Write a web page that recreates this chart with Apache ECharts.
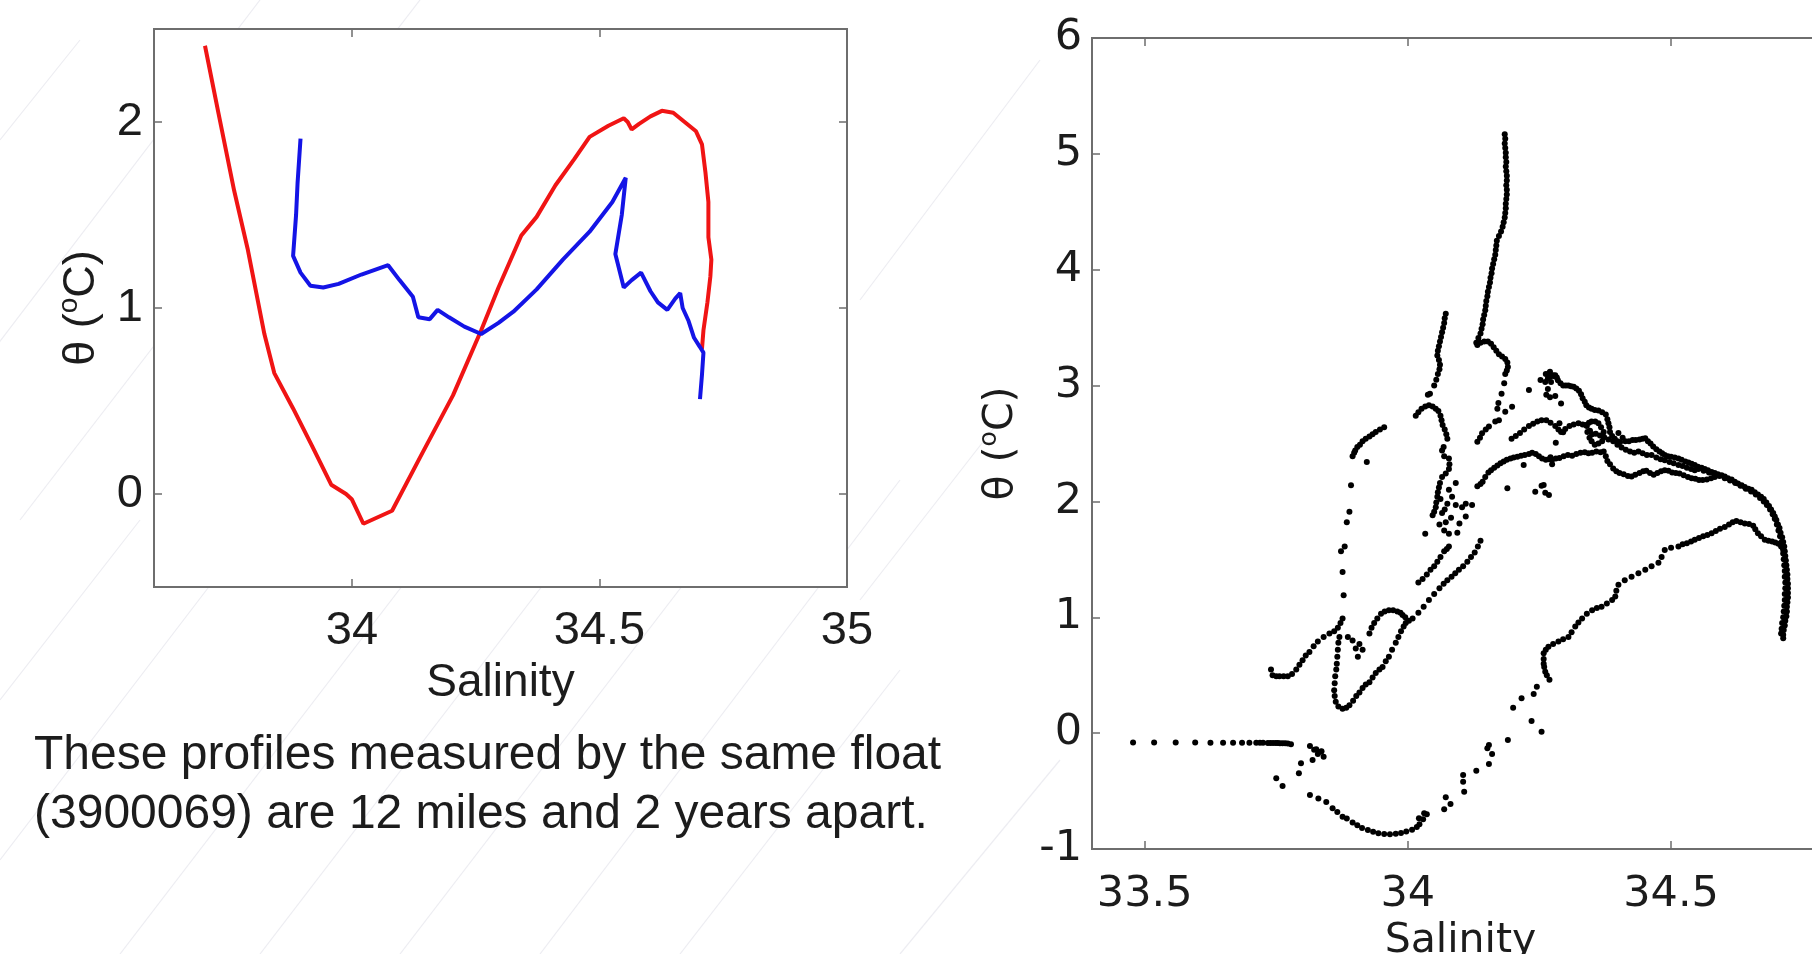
<!DOCTYPE html>
<html>
<head>
<meta charset="utf-8">
<script src="https://cdn.jsdelivr.net/npm/echarts@6/dist/echarts.min.js"></script>
<style>
html,body{margin:0;padding:0;background:#fff;}
#c{width:1812px;height:954px;}
</style>
</head>
<body>
<div id="c"></div>
<script>
// ---------- Left panel: two profiles of float 3900069 (Salinity, theta) ----------
const leftXTicks = [34, 34.5, 35];
const leftYTicks = [0, 1, 2];
const redProfile = [
  [33.703,2.41],[33.730,2.05],[33.762,1.63],[33.789,1.32],[33.823,0.86],[33.843,0.65],
  [33.881,0.46],[33.919,0.26],[33.958,0.05],[33.988,0.00],[34.000,-0.03],[34.023,-0.16],
  [34.081,-0.09],[34.142,0.22],[34.204,0.53],[34.261,0.88],[34.296,1.11],[34.342,1.39],
  [34.373,1.49],[34.411,1.66],[34.449,1.80],[34.480,1.92],[34.518,1.98],[34.549,2.02],
  [34.557,2.00],[34.565,1.96],[34.580,1.99],[34.603,2.03],[34.626,2.06],[34.649,2.05],
  [34.672,2.00],[34.695,1.95],[34.707,1.88],[34.714,1.73],[34.720,1.57],[34.720,1.38],
  [34.726,1.26],[34.724,1.17],[34.718,1.03],[34.710,0.88],[34.707,0.78]
];
const blueProfile = [
  [33.896,1.91],[33.890,1.67],[33.887,1.50],[33.881,1.28],[33.896,1.19],[33.916,1.12],
  [33.942,1.11],[33.973,1.13],[34.019,1.18],[34.073,1.23],[34.096,1.15],[34.123,1.06],
  [34.134,0.95],[34.157,0.94],[34.173,0.99],[34.196,0.95],[34.227,0.90],[34.261,0.86],
  [34.296,0.92],[34.326,0.98],[34.373,1.10],[34.426,1.26],[34.480,1.41],[34.526,1.57],
  [34.553,1.70],[34.545,1.50],[34.532,1.29],[34.549,1.11],[34.565,1.15],[34.584,1.19],
  [34.603,1.09],[34.618,1.03],[34.637,0.99],[34.653,1.05],[34.663,1.08],[34.668,1.00],
  [34.680,0.93],[34.691,0.84],[34.703,0.79],[34.710,0.76],[34.707,0.64],[34.703,0.51]
];

// ---------- Right panel: all profiles (dots) ----------
const rightXTicks = [33.5, 34, 34.5];
const spikeDots = [
  [34.184,5.17],[34.185,5.13],[34.184,5.09],[34.185,5.05],[34.186,5.01],[34.186,4.97],[34.187,4.93],
  [34.186,4.89],[34.187,4.85],[34.188,4.81],[34.188,4.77],[34.187,4.73],[34.188,4.69],[34.188,4.65],
  [34.187,4.61],[34.186,4.57],[34.186,4.53],[34.185,4.49],[34.184,4.45],[34.182,4.41],[34.180,4.37],
  [34.177,4.33],[34.173,4.29],[34.169,4.25],[34.168,4.21],[34.167,4.17],[34.166,4.13],[34.164,4.09],
  [34.162,4.05],[34.160,4.01],[34.159,3.97],[34.157,3.93],[34.156,3.89],[34.154,3.85],[34.152,3.81],
  [34.151,3.77],[34.149,3.73],[34.148,3.69],[34.147,3.65],[34.145,3.61],[34.143,3.57],[34.142,3.53],
  [34.140,3.49],[34.138,3.45],[34.134,3.41],[34.130,3.37],[34.132,3.35],[34.138,3.37],[34.145,3.38],
  [34.152,3.38],[34.158,3.36],[34.163,3.33],[34.168,3.30],[34.173,3.27],[34.179,3.25],[34.185,3.23],
  [34.189,3.20],[34.190,3.16],[34.188,3.13],[34.185,3.10],[34.183,3.02],[34.178,2.93],[34.172,2.85],
  [34.170,2.80],[34.173,2.70],[34.185,2.775],[34.198,2.818],[34.230,2.962],[34.252,3.048],[34.268,3.106]
];
const columnDots = [
  [34.072,3.62],[34.070,3.58],[34.069,3.54],[34.067,3.50],[34.065,3.46],[34.063,3.42],[34.061,3.38],
  [34.059,3.34],[34.057,3.30],[34.056,3.26],[34.059,3.22],[34.061,3.18],[34.060,3.14],[34.057,3.10],
  [34.054,3.05],[34.050,3.00],[34.042,2.93],[34.038,2.92],
  [34.015,2.74],[34.020,2.77],[34.026,2.80],[34.033,2.82],[34.040,2.83],[34.047,2.82],[34.053,2.80],
  [34.058,2.78],[34.062,2.74],[34.064,2.70],[34.066,2.66],[34.070,2.62],[34.073,2.58],[34.075,2.54],
  [34.068,2.47],[34.065,2.44],[34.069,2.39],[34.078,2.37],[34.079,2.32],[34.078,2.28],[34.072,2.24],
  [34.065,2.21],[34.061,2.16],[34.059,2.12],[34.057,2.08],[34.056,2.04],[34.054,1.99],[34.053,1.95],
  [34.050,1.91],[34.047,1.88],[34.065,1.90],[34.075,1.98],[34.078,2.10],[34.091,2.16],[34.084,2.04],
  [34.091,1.97],[34.072,1.82],[34.069,1.75],[34.078,1.72],[34.094,1.73],[34.103,1.95],[34.110,1.98],
  [34.122,1.97],[34.110,1.87],[34.033,1.72],[34.062,2.02],[34.070,1.93],[34.082,1.86],[34.098,1.81],
  [34.060,1.80],[34.132,2.516],[34.137,2.55],[34.141,2.588],[34.148,2.62],[34.154,2.646],[34.166,2.689]
];
const leftColumnDots = [
  [33.955,2.64],[33.947,2.62],[33.939,2.60],[33.933,2.58],[33.927,2.56],[33.920,2.54],[33.914,2.52],
  [33.909,2.49],[33.904,2.47],[33.900,2.44],[33.898,2.42],[33.895,2.39],[33.922,2.34],[33.892,2.14],
  [33.889,1.91],[33.884,1.82],[33.880,1.61],[33.873,1.57],[33.876,1.39],[33.878,1.19],[33.876,0.99]
];
const vShapeDots = [
  [33.740,0.55],[33.743,0.50],[33.750,0.49],[33.756,0.49],[33.764,0.49],[33.772,0.49],[33.780,0.51],
  [33.788,0.55],[33.794,0.59],[33.800,0.63],[33.806,0.67],[33.813,0.70],[33.821,0.75],[33.829,0.79],
  [33.840,0.83],[33.851,0.86],[33.860,0.88],[33.867,0.91],[33.872,0.95],
  [33.870,0.83],[33.868,0.78],[33.867,0.72],[33.866,0.66],[33.865,0.60],[33.864,0.55],[33.862,0.49],
  [33.861,0.43],[33.860,0.37],[33.861,0.32],[33.863,0.27],[33.868,0.23],[33.876,0.21],[33.883,0.22],
  [33.889,0.24],[33.896,0.28],[33.902,0.32],[33.908,0.35],[33.914,0.39],[33.920,0.42],[33.927,0.44],
  [33.933,0.48],[33.939,0.52],[33.946,0.55],[33.952,0.57],[33.958,0.62],[33.964,0.66],[33.970,0.72],
  [33.977,0.78],[33.982,0.83],[33.987,0.88],[33.992,0.92],[33.996,0.95],[34.002,0.97],[34.009,0.99],
  [33.927,0.86],[33.931,0.91],[33.936,0.95],[33.942,0.99],[33.949,1.03],[33.956,1.05],[33.964,1.06],
  [33.972,1.06],[33.980,1.05],[33.986,1.04],[33.990,1.02],[33.995,1.00],
  [33.895,0.80],[33.901,0.73],[33.905,0.66],[33.914,0.72],[33.886,0.83],[33.908,0.77]
];
const diagonalDots = [
  [34.020,1.04],[34.030,1.09],[34.040,1.15],[34.050,1.20],[34.060,1.25],[34.068,1.29],[34.075,1.32],
  [34.083,1.35],[34.090,1.38],[34.097,1.41],[34.105,1.44],[34.113,1.48],[34.120,1.52],[34.127,1.56],
  [34.133,1.61],[34.138,1.66],
  [34.020,1.30],[34.028,1.33],[34.036,1.37],[34.043,1.41],[34.050,1.44],[34.056,1.48],[34.062,1.52],
  [34.069,1.57],[34.074,1.59],[34.078,1.61]
];
const topLoopDots = [
  [34.261,3.03],[34.266,3.06],[34.271,3.08],[34.276,3.09],[34.280,3.09],[34.283,3.07],[34.285,3.045],
  [34.290,3.02],[34.295,3.00],[34.300,3.00],[34.305,3.00],[34.310,2.995],[34.315,2.99],[34.320,2.975],
  [34.325,2.955],[34.329,2.925],[34.332,2.89],[34.336,2.86],[34.339,2.83],[34.344,2.81],[34.349,2.80],
  [34.355,2.79],[34.362,2.785],[34.369,2.77],[34.376,2.75],[34.379,2.71],[34.381,2.675],[34.383,2.64],
  [34.384,2.60],[34.388,2.565],[34.393,2.54],[34.398,2.52],[34.403,2.51],
  [34.338,2.66],[34.344,2.68],[34.349,2.69],[34.356,2.69],[34.362,2.675],[34.367,2.64],[34.372,2.60],
  [34.371,2.56],[34.369,2.52],[34.362,2.50],[34.355,2.49],[34.349,2.52],[34.345,2.55],[34.341,2.60],
  [34.262,3.10],[34.270,3.12],[34.278,3.08],[34.272,3.03],[34.266,2.97],[34.263,2.92],[34.270,2.90],[34.280,2.91],
  [34.291,2.845],[34.288,2.675],[34.295,2.598],[34.281,2.506],[34.271,2.382],[34.274,2.321],[34.261,2.074],
  [34.254,2.136],[34.242,2.084],[34.258,2.142],[34.268,2.056],[34.189,2.113],[34.220,2.315]
];
const midStrandDots = [
  [34.197,2.54],[34.205,2.565],[34.213,2.59],[34.221,2.62],[34.230,2.65],[34.238,2.67],[34.246,2.69],
  [34.254,2.70],[34.263,2.70],[34.271,2.68],[34.280,2.65],[34.286,2.62],[34.291,2.60],[34.299,2.625],
  [34.307,2.65],[34.315,2.665],[34.324,2.675],[34.332,2.665],[34.340,2.65],[34.346,2.61],[34.350,2.58],
  [34.357,2.585],[34.365,2.57],[34.373,2.555],[34.381,2.535],[34.390,2.52],[34.398,2.49],[34.406,2.465],
  [34.414,2.445],[34.422,2.43],[34.430,2.42],[34.438,2.43],[34.446,2.415],[34.454,2.40],[34.463,2.40],
  [34.472,2.38],[34.480,2.365],[34.488,2.355],[34.497,2.34],[34.505,2.33],[34.514,2.315],[34.522,2.305],
  [34.530,2.29],[34.538,2.28],[34.545,2.27]
];
const lowStrandDots = [
  [34.132,2.13],[34.138,2.15],[34.142,2.17],[34.147,2.21],[34.153,2.25],[34.158,2.27],[34.164,2.29],
  [34.170,2.31],[34.176,2.33],[34.182,2.345],[34.188,2.36],[34.195,2.37],[34.201,2.38],[34.208,2.385],
  [34.215,2.395],[34.222,2.40],[34.230,2.41],[34.236,2.42],[34.243,2.41],[34.249,2.39],[34.255,2.37],
  [34.262,2.36],[34.268,2.365],[34.274,2.36],[34.281,2.37],[34.288,2.375],[34.296,2.39],[34.304,2.40],
  [34.312,2.395],[34.320,2.41],[34.328,2.42],[34.336,2.425],[34.343,2.415],[34.350,2.42],[34.358,2.43],
  [34.366,2.425],[34.372,2.43],[34.376,2.39],[34.379,2.35],[34.384,2.32],[34.390,2.285],[34.396,2.26],
  [34.402,2.245],[34.410,2.235],[34.418,2.22],[34.425,2.215],[34.432,2.23],[34.440,2.245],[34.447,2.26],
  [34.453,2.265],[34.460,2.245],[34.467,2.23],[34.474,2.245],[34.481,2.26],[34.488,2.27],[34.495,2.265],
  [34.502,2.25],[34.509,2.245],[34.516,2.24],[34.524,2.225],[34.532,2.21],[34.539,2.20],[34.546,2.195],
  [34.553,2.185],[34.560,2.185],[34.568,2.19],[34.576,2.20],[34.583,2.21]
];
const bendDots = [
  [34.400,2.59],[34.408,2.55],[34.413,2.52],[34.420,2.52],[34.427,2.53],[34.433,2.53],[34.440,2.535],
  [34.446,2.54],[34.451,2.545],[34.456,2.52],[34.461,2.50],[34.466,2.475],[34.472,2.45],[34.478,2.43],
  [34.483,2.415],[34.488,2.40],[34.494,2.39],[34.500,2.385],[34.507,2.38],[34.514,2.37],[34.520,2.36],
  [34.527,2.345],[34.533,2.335],[34.539,2.325],[34.545,2.315],[34.551,2.30],[34.558,2.29],[34.564,2.28],
  [34.570,2.27],[34.577,2.255],[34.583,2.245],[34.589,2.235],[34.596,2.225],[34.602,2.215],[34.608,2.20],
  [34.615,2.19],[34.621,2.17],[34.627,2.155],[34.634,2.14],[34.640,2.125],[34.647,2.11],[34.653,2.10],
  [34.659,2.08],[34.665,2.06],[34.671,2.04],[34.676,2.02],[34.681,1.99],[34.686,1.96],[34.690,1.93],
  [34.694,1.90],[34.697,1.87],[34.700,1.84],[34.703,1.80],[34.706,1.77],[34.708,1.73],[34.711,1.69],
  [34.713,1.65],[34.715,1.61],[34.716,1.57],[34.717,1.53],[34.718,1.49],[34.719,1.45],[34.720,1.41],
  [34.721,1.37],[34.721,1.33],[34.722,1.29],[34.722,1.25],[34.722,1.21],[34.722,1.17],[34.721,1.13],
  [34.720,1.09],[34.720,1.05],[34.719,1.01],[34.717,0.97],[34.716,0.93],[34.714,0.89],[34.713,0.85],
  [34.713,0.82],
  [34.552,2.28],[34.562,2.265],[34.572,2.25],[34.582,2.235],[34.592,2.22],[34.602,2.20],[34.612,2.18],
  [34.622,2.16],[34.632,2.135],[34.642,2.11],[34.652,2.085],[34.661,2.06],[34.669,2.03],[34.676,2.00],
  [34.682,1.97],[34.688,1.93],[34.693,1.89],[34.697,1.85],[34.701,1.80],[34.704,1.75],[34.707,1.70],
  [34.710,1.65],[34.712,1.60],[34.713,1.55],[34.714,1.50],[34.715,1.45],[34.716,1.40],[34.716,1.35],
  [34.717,1.30],[34.717,1.25],[34.716,1.20],[34.716,1.15],[34.715,1.10],[34.714,1.05],[34.713,1.00],
  [34.711,0.95],[34.710,0.90],[34.709,0.86]
];
const lowerCurveDots = [
  [34.269,0.46],[34.264,0.50],[34.261,0.53],[34.259,0.57],[34.258,0.60],[34.258,0.64],[34.258,0.69],
  [34.262,0.72],[34.267,0.745],[34.276,0.77],[34.286,0.79],[34.295,0.81],[34.305,0.83],[34.311,0.87],
  [34.318,0.92],[34.324,0.955],[34.331,0.99],[34.340,1.03],[34.350,1.06],[34.359,1.08],[34.368,1.09],
  [34.378,1.12],[34.388,1.15],[34.394,1.18],[34.396,1.23],[34.400,1.28],[34.412,1.32],[34.425,1.35],
  [34.438,1.38],[34.451,1.41],[34.463,1.44],[34.476,1.47],[34.482,1.52],[34.488,1.58],[34.500,1.60],
  [34.514,1.61],[34.522,1.63],[34.530,1.64],[34.538,1.655],[34.545,1.67],[34.553,1.685],[34.561,1.70],
  [34.569,1.71],[34.577,1.725],[34.585,1.745],[34.593,1.765],[34.602,1.78],[34.610,1.80],[34.617,1.82],
  [34.624,1.83],[34.632,1.82],[34.640,1.81],[34.648,1.805],[34.656,1.79],[34.660,1.76],[34.665,1.725],
  [34.671,1.70],[34.678,1.67],[34.685,1.66],[34.692,1.655],[34.698,1.645],[34.704,1.635],[34.709,1.61],
  [34.713,1.58]
];
const bottomDots = [
  [33.478,-0.080],[33.518,-0.080],[33.559,-0.080],[33.596,-0.080],[33.625,-0.082],[33.649,-0.082],
  [33.668,-0.082],[33.685,-0.083],[33.699,-0.083],[33.712,-0.084],[33.719,-0.084],[33.725,-0.084],
  [33.734,-0.085],[33.739,-0.085],[33.744,-0.085],[33.749,-0.086],[33.753,-0.086],[33.757,-0.087],
  [33.762,-0.087],[33.767,-0.088],[33.772,-0.090],[33.778,-0.095],
  [33.814,-0.111],[33.826,-0.140],[33.835,-0.160],[33.840,-0.203],[33.829,-0.180],[33.819,-0.232],
  [33.822,-0.143],[33.836,-0.157],[33.797,-0.260],[33.793,-0.347],[33.750,-0.390],[33.762,-0.456],
  [33.814,-0.534],[33.830,-0.565],[33.845,-0.595],[33.857,-0.649],[33.866,-0.680],[33.876,-0.721],
  [33.884,-0.737],[33.895,-0.771],[33.904,-0.795],[33.913,-0.818],[33.924,-0.837],[33.934,-0.851],
  [33.944,-0.864],[33.955,-0.871],[33.966,-0.872],[33.977,-0.869],[33.987,-0.862],[33.997,-0.850],
  [34.008,-0.833],[34.017,-0.810],[34.022,-0.786],[34.029,-0.743],[34.021,-0.735],[34.031,-0.692],
  [34.036,-0.700],[34.069,-0.657],[34.081,-0.612],[34.072,-0.554],[34.107,-0.505],[34.105,-0.419],
  [34.105,-0.361],[34.130,-0.324],[34.154,-0.266],[34.160,-0.180],[34.151,-0.131],[34.154,-0.102],
  [34.190,-0.059],[34.254,0.013],[34.235,0.105],[34.200,0.220],[34.216,0.301],[34.239,0.338],
  [34.245,0.401]
];

const allDots = [].concat(spikeDots, columnDots, leftColumnDots, vShapeDots, diagonalDots,
  topLoopDots, midStrandDots, lowStrandDots, bendDots, lowerCurveDots, bottomDots);

const FRAME = '#6e6e6e';
const TXT = '#1c1c1c';
const FL = '"Liberation Sans", Arial, sans-serif';
const FR = '"DejaVu Sans", sans-serif';

function thetaName(size, fam) {
  return {
    name: '{a|θ (}{s|o}{a|C)}',
    nameTextStyle: {
      rich: {
        a: { fontSize: size, fontFamily: fam, color: TXT, lineHeight: size * 1.2 },
        s: { fontSize: Math.round(size * 0.62), fontFamily: fam, color: TXT, verticalAlign: 'top', lineHeight: size * 0.7 }
      }
    }
  };
}

// faint slide-background strokes (decorative template lines)
const bgLines = [];
[[-60,420,260,0],[20,520,420,0],[120,954,560,380],[260,954,700,380],[400,954,840,380],
 [540,954,900,480],[0,700,140,520],[0,860,260,520],[680,954,900,670],[860,600,1000,420],
 [900,954,1060,760],[860,300,1040,60],[0,140,80,40]].forEach(function (s) {
  bgLines.push({ type: 'line', z: -100, silent: true,
    shape: { x1: s[0], y1: s[1], x2: s[2], y2: s[3] },
    style: { stroke: '#ededf2', lineWidth: 1.2 } });
});

const chart = echarts.init(document.getElementById('c'), null, { renderer: 'canvas' });
const tickStyle = function (vals) {
  const t = { show: true, inside: true, length: 8, lineStyle: { color: FRAME, width: 1.5 } };
  if (vals) t.customValues = vals;
  return t;
};
const option = {
  backgroundColor: '#ffffff',
  animation: false,
  grid: [
    { left: 154, top: 29, width: 693, height: 558, show: true, borderColor: FRAME, borderWidth: 2,
      backgroundColor: '#fff', containLabel: false, outerBoundsMode: 'none' },
    { left: 1092, top: 38, width: 737, height: 811, show: true, borderColor: FRAME, borderWidth: 2,
      backgroundColor: '#fff', containLabel: false, outerBoundsMode: 'none' }
  ],
  xAxis: [
    {
      gridIndex: 0, type: 'value', position: 'bottom', min: 33.6, max: 35,
      axisLine: { show: false, onZero: false }, splitLine: { show: false },
      axisTick: tickStyle(leftXTicks),
      axisLabel: { customValues: leftXTicks, fontSize: 47, fontFamily: FL, color: TXT, margin: 21 },
      name: 'Salinity', nameLocation: 'middle', nameGap: 54,
      nameTextStyle: { fontSize: 46, fontFamily: FL, color: TXT }
    },
    {
      gridIndex: 0, type: 'value', position: 'top', min: 33.6, max: 35,
      axisLine: { show: false, onZero: false }, splitLine: { show: false },
      axisTick: tickStyle(leftXTicks),
      axisLabel: { show: false }
    },
    {
      gridIndex: 1, type: 'value', position: 'bottom', min: 33.4, max: 34.8,
      axisLine: { show: false, onZero: false }, splitLine: { show: false },
      axisTick: tickStyle(rightXTicks),
      axisLabel: { customValues: rightXTicks, fontSize: 43, fontFamily: FR, color: TXT, margin: 24 },
      name: 'Salinity', nameLocation: 'middle', nameGap: 65,
      nameTextStyle: { fontSize: 41, fontFamily: FR, color: TXT }
    },
    {
      gridIndex: 1, type: 'value', position: 'top', min: 33.4, max: 34.8,
      axisLine: { show: false, onZero: false }, splitLine: { show: false },
      axisTick: tickStyle(rightXTicks),
      axisLabel: { show: false }
    }
  ],
  yAxis: [
    Object.assign({
      gridIndex: 0, type: 'value', position: 'left', min: -0.5, max: 2.5,
      axisLine: { show: false, onZero: false }, splitLine: { show: false },
      axisTick: tickStyle(leftYTicks),
      axisLabel: { customValues: leftYTicks, fontSize: 47, fontFamily: FL, color: TXT, margin: 11 },
      nameLocation: 'middle', nameGap: 45
    }, thetaName(45, FL)),
    {
      gridIndex: 0, type: 'value', position: 'right', min: -0.5, max: 2.5,
      axisLine: { show: false, onZero: false }, splitLine: { show: false },
      axisTick: tickStyle(leftYTicks),
      axisLabel: { show: false }
    },
    Object.assign({
      gridIndex: 1, type: 'value', position: 'left', min: -1, max: 6, interval: 1,
      axisLine: { show: false, onZero: false }, splitLine: { show: false },
      axisTick: tickStyle(null),
      axisLabel: { fontSize: 43, fontFamily: FR, color: TXT, margin: 10 },
      nameLocation: 'middle', nameGap: 66
    }, thetaName(41, FR)),
    {
      gridIndex: 1, type: 'value', position: 'right', min: -1, max: 6, interval: 1,
      axisLine: { show: false, onZero: false }, splitLine: { show: false },
      axisTick: tickStyle(null),
      axisLabel: { show: false }
    }
  ],
  series: [
    {
      type: 'line', xAxisIndex: 0, yAxisIndex: 0, data: redProfile, showSymbol: false,
      lineStyle: { color: '#f01414', width: 4 }, z: 3
    },
    {
      type: 'line', xAxisIndex: 0, yAxisIndex: 0, data: blueProfile, showSymbol: false,
      lineStyle: { color: '#1414e6', width: 4 }, z: 4
    },
    {
      type: 'scatter', xAxisIndex: 2, yAxisIndex: 2, data: allDots, symbolSize: 6,
      itemStyle: { color: '#000000', opacity: 1 }
    }
  ],
  graphic: bgLines.concat([
    {
      type: 'text', left: 34, top: 726, z: 10,
      style: {
        text: 'These profiles measured by the same float\n(3900069) are 12 miles and 2 years apart.',
        font: '48px "Liberation Sans", Arial, sans-serif', fill: TXT, lineHeight: 59
      }
    }
  ])
};
chart.setOption(option);
</script>
</body>
</html>
